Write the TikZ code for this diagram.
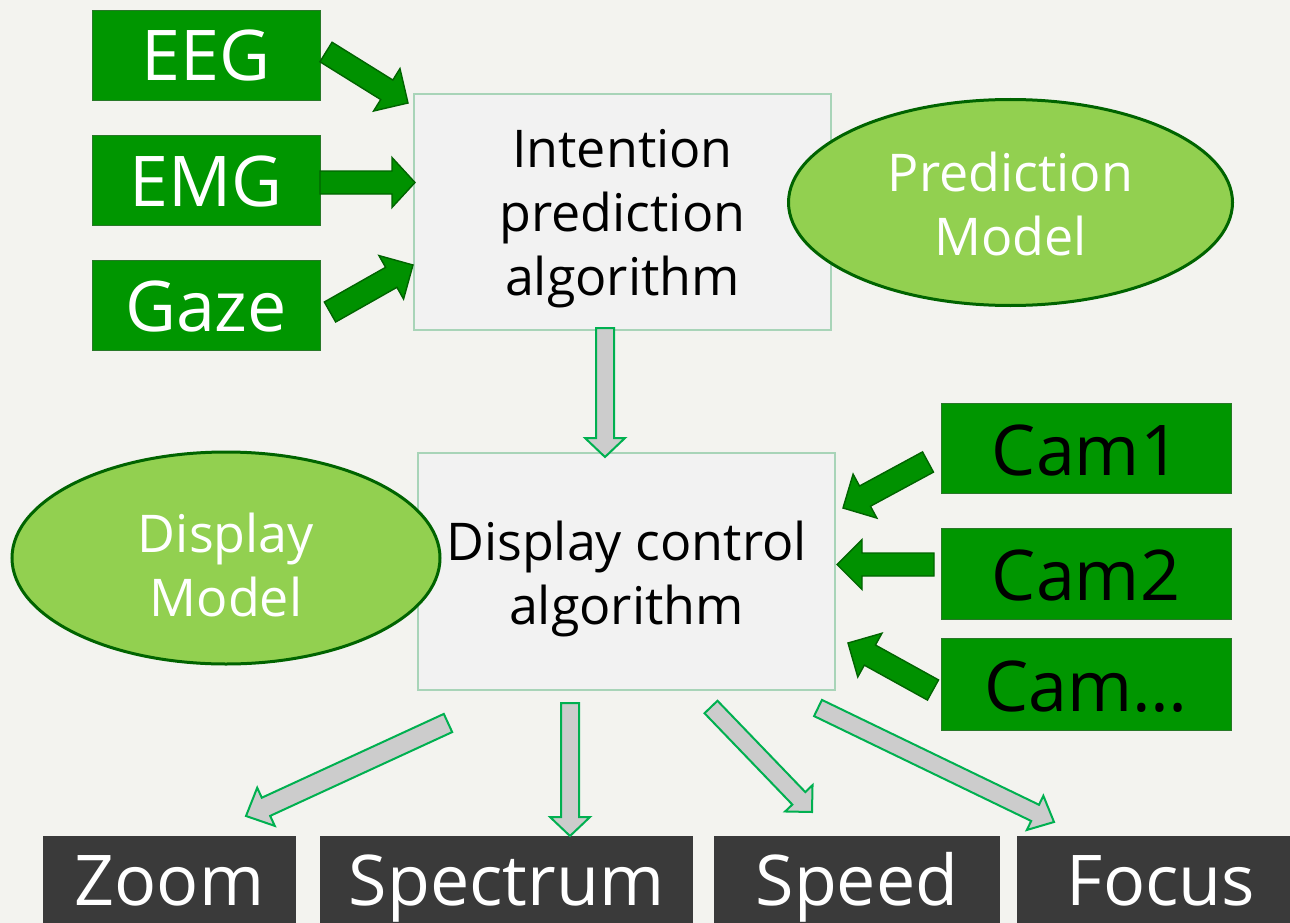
\documentclass[tikz,border=0pt]{standalone}
\usepackage{fontspec}
\setmainfont{Open Sans}
\usetikzlibrary{calc,shapes.geometric}
\definecolor{bg}{RGB}{243,243,239}
\definecolor{boxgreen}{RGB}{0,150,0}
\definecolor{boxgreenline}{RGB}{40,120,40}
\definecolor{ellfill}{RGB}{146,208,80}
\definecolor{ellline}{RGB}{0,100,0}
\definecolor{procfill}{RGB}{242,242,242}
\definecolor{procline}{RGB}{168,212,184}
\definecolor{greyarr}{RGB}{204,204,204}
\definecolor{greyarrline}{RGB}{0,176,80}
\definecolor{greenarr}{RGB}{0,145,0}
\definecolor{greenarrline}{RGB}{0,100,0}
\definecolor{darkbox}{RGB}{58,58,58}
% #1 style, #2 tail, #3 tip, #4 shaft half width, #5 head half width, #6 head length
\newcommand\blockarrow[6]{%
  \draw[#1] ($(#2)!#4!90:(#3)$) -- ($(#3)!#6!(#2)!#4!-90:(#2)$) -- ($(#3)!#6!(#2)!#5!-90:(#2)$) -- (#3)
   -- ($(#3)!#6!(#2)!#5!90:(#2)$) -- ($(#3)!#6!(#2)!#4!90:(#2)$) -- ($(#2)!#4!-90:(#3)$) -- cycle;}
\tikzset{
  sig/.style={draw=boxgreenline, fill=boxgreen, line width=0.8pt, minimum width=228, minimum height=90,
    inner sep=0pt, text=white, text height=52pt, text depth=0pt, font=\fontsize{70}{84}\selectfont},
  cam/.style={draw=boxgreenline, fill=boxgreen, line width=0.8pt, minimum width=290,
    inner sep=0pt, text=black, text height=54pt, text depth=0pt, font=\fontsize{70}{84}\selectfont},
  proc/.style={draw=procline, fill=procfill, line width=1.2pt, inner sep=0pt, align=center,
    text=black, font=\fontsize{52}{64}\selectfont},
  model/.style={ellipse, draw=ellline, fill=ellfill, line width=3pt, inner sep=0pt, align=center,
    text=white, font=\fontsize{52}{64}\selectfont},
  outbox/.style={fill=darkbox, minimum height=88, inner sep=0pt, text=white,
    text height=50pt, text depth=0pt, font=\fontsize{70}{84}\selectfont},
  greenarrow/.style={draw=greenarrline, fill=greenarr, line width=1.4pt, line join=miter},
  greyarrow/.style={draw=greyarrline, fill=greyarr, line width=2pt, line join=miter},
}
\begin{document}
\begin{tikzpicture}[x=1pt,y=-1pt]
\useasboundingbox (0,0) rectangle (1290,923);
\fill[bg] (0,0) rectangle (1290,923);
\clip (0,0) rectangle (1290,923);

% inputs
\node[sig] (eeg)  at (206,55)  {EEG};
\node[sig] (emg)  at (206,180) {EMG};
\node[sig] (gaze) at (206,305) {Gaze};

% algorithms
\node[proc, minimum width=417, minimum height=236, text height=180pt, text depth=14pt] (intent) at (622.5,212)
  {Intention\\prediction\\algorithm};
\node[proc, minimum width=417, minimum height=237, text height=125pt, text depth=20pt] (display) at (626.5,571.5)
  {Display control\\algorithm};

% models
\node[model, minimum width=444, minimum height=206, text height=120pt, text depth=15pt] (pred) at (1010.5,202.5)
  {Prediction\\Model};
\node[model, minimum width=428, minimum height=212, text height=130pt, text depth=14pt] (dmodel) at (226,558)
  {Display\\Model};

% cameras
\node[cam, minimum height=90] (cam1) at (1086,448)   {Cam1};
\node[cam, minimum height=91] (cam2) at (1086,573.5) {Cam2};
\node[cam, minimum height=92] (cam3) at (1086,684)   {Cam\dots};

% outputs
\node[outbox, minimum width=253] (zoom)  at (169.5,880) {Zoom};
\node[outbox, minimum width=373] (spec)  at (506.5,880) {Spectrum};
\node[outbox, minimum width=286] (speed) at (857,880)   {Speed};
\node[outbox, minimum width=288] (focus) at (1161,880)  {Focus};

% arrow end points
\coordinate (eegT) at (326,52);   \coordinate (eegH) at (408,103);
\coordinate (emgT) at (320,182.5);\coordinate (emgH) at (415,182.5);
\coordinate (gazeT) at (330,312); \coordinate (gazeH) at (413,265);
\coordinate (cam1T) at (928,462); \coordinate (cam1H) at (843,508);
\coordinate (cam2T) at (934,564.5); \coordinate (cam2H) at (837,564.5);
\coordinate (cam3T) at (933,690); \coordinate (cam3H) at (848,643);
\coordinate (intT) at (605,328);  \coordinate (intH) at (605,457);
\coordinate (zoomT) at (448,723); \coordinate (zoomH) at (246,816);
\coordinate (specT) at (570,703); \coordinate (specH) at (570,836);
\coordinate (speedT) at (711,707);\coordinate (speedH) at (812,812);
\coordinate (focusT) at (818,708);\coordinate (focusH) at (1054,822);

\blockarrow{greenarrow}{eegT}{eegH}{11.5pt}{25pt}{25pt}
\blockarrow{greenarrow}{emgT}{emgH}{11.5pt}{25pt}{23pt}
\blockarrow{greenarrow}{gazeT}{gazeH}{11.5pt}{25pt}{25pt}
\blockarrow{greenarrow}{cam1T}{cam1H}{11.5pt}{25pt}{25pt}
\blockarrow{greenarrow}{cam2T}{cam2H}{11.5pt}{25pt}{25pt}
\blockarrow{greenarrow}{cam3T}{cam3H}{11.5pt}{25pt}{25pt}

\blockarrow{greyarrow}{intT}{intH}{9pt}{20pt}{19pt}
\blockarrow{greyarrow}{zoomT}{zoomH}{10pt}{21pt}{22pt}
\blockarrow{greyarrow}{specT}{specH}{9pt}{20pt}{19pt}
\blockarrow{greyarrow}{speedT}{speedH}{9pt}{19pt}{19pt}
\blockarrow{greyarrow}{focusT}{focusH}{9pt}{19pt}{21pt}
\end{tikzpicture}
\end{document}
